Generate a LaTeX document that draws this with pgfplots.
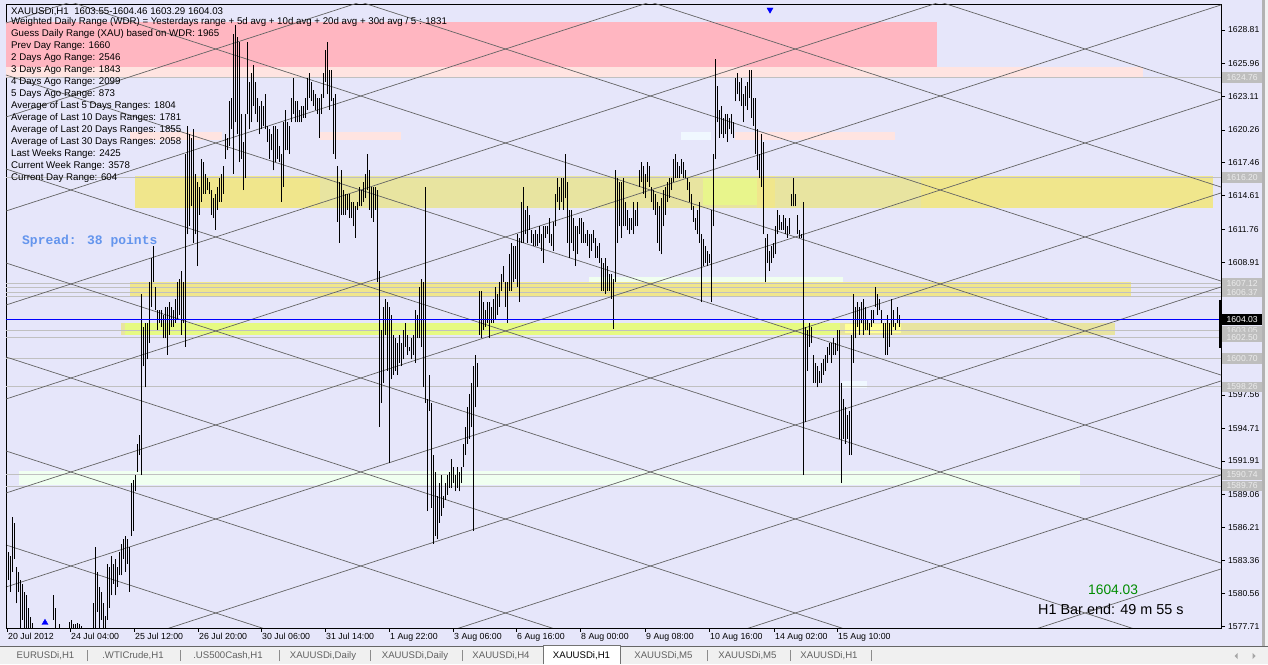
\documentclass[border=0pt]{standalone}
\usepackage{fontspec}
\setmainfont{Liberation Sans}
\newfontfamily\monofont{Liberation Mono}
\usepackage{pgfplots}
\usepackage{pgfplotstable}
\pgfplotsset{compat=1.18}

\definecolor{chartbg}{RGB}{230,230,250}
\definecolor{zonered}{RGB}{255,182,193}
\definecolor{zonepink}{RGB}{255,228,225}
\definecolor{khaki}{RGB}{240,230,140}
\definecolor{khakigray}{RGB}{232,228,160}
\definecolor{limezone}{RGB}{230,250,130}
\definecolor{limeyellow}{RGB}{232,245,140}
\definecolor{paleyellow}{RGB}{255,255,150}
\definecolor{honeydew}{RGB}{240,255,240}
\definecolor{aliceblue}{RGB}{240,248,255}
\definecolor{levelgray}{RGB}{192,192,192}
\definecolor{gridgray}{RGB}{100,100,100}
\definecolor{spreadblue}{RGB}{100,149,237}
\definecolor{bidgreen}{RGB}{0,140,0}
\definecolor{tabbg}{RGB}{240,240,240}
\definecolor{labelbox}{RGB}{190,190,190}
\definecolor{labeltext}{RGB}{235,235,235}

% H1 bars: x (bar position), low, high
\pgfplotstableread{
x lo hi
7 1577.0 1584.8
9 1581.7 1584.1
11 1580.7 1583.8
13 1582.4 1587.1
15 1583.5 1586.6
17 1579.7 1582.8
19 1580.7 1582.4
21 1577.0 1581.7
23 1578.3 1581.4
25 1577.0 1580.7
27 1577.0 1580.4
29 1577.0 1579.3
31 1577.0 1578.5
33 1577.0 1578.0
53 1578.3 1580.4
55 1577.0 1579.3
59 1577.0 1577.9
69 1577.0 1578.1
71 1577.0 1578.3
73 1577.0 1577.9
75 1577.0 1577.9
77 1577.0 1578.0
79 1577.0 1577.9
81 1577.0 1577.8
93 1577.0 1579.7
95 1577.0 1584.5
97 1579.0 1582.4
99 1577.0 1581.1
101 1578.3 1580.7
103 1577.0 1579.7
105 1577.0 1578.6
107 1578.3 1583.1
109 1579.3 1582.8
111 1580.4 1583.8
113 1581.4 1583.1
115 1580.4 1583.5
117 1581.1 1582.8
119 1582.1 1584.1
121 1582.1 1584.8
123 1583.5 1585.2
125 1582.4 1585.5
127 1583.1 1585.2
129 1580.7 1584.5
131 1585.5 1590.0
133 1585.9 1590.3
135 1589.3 1590.7
137 1591.0 1593.4
139 1592.4 1594.1
141 1590.7 1606.2
143 1600.0 1603.4
145 1598.2 1603.7
147 1600.6 1603.7
149 1602.0 1607.2
151 1605.1 1609.3
153 1607.2 1610.3
155 1604.8 1606.8
157 1603.1 1604.8
159 1603.7 1604.8
161 1603.4 1604.8
163 1602.4 1604.4
165 1602.4 1605.1
167 1601.0 1605.1
169 1602.7 1605.5
171 1603.4 1605.1
173 1603.4 1604.8
175 1603.7 1605.8
177 1604.1 1607.2
179 1604.4 1607.5
181 1602.7 1608.2
183 1603.7 1607.2
185 1601.7 1618.2
187 1611.3 1620.6
189 1612.0 1619.9
191 1613.7 1619.6
193 1610.6 1620.3
195 1611.3 1616.5
197 1608.6 1615.8
199 1613.0 1615.4
201 1614.1 1617.8
203 1614.8 1617.5
205 1614.8 1616.5
207 1615.1 1616.1
209 1614.8 1615.8
211 1613.0 1615.1
213 1612.7 1614.4
215 1611.7 1614.8
217 1613.4 1615.4
219 1614.1 1616.1
221 1614.1 1616.5
223 1614.8 1617.2
225 1617.8 1619.9
227 1618.5 1619.6
229 1618.9 1622.7
231 1620.3 1623.0
233 1616.5 1628.5
235 1620.9 1629.2
237 1619.9 1628.2
239 1617.5 1627.8
241 1617.8 1621.6
243 1615.1 1619.2
245 1616.1 1621.6
247 1621.6 1627.8
249 1620.3 1624.4
251 1620.9 1625.1
253 1622.3 1625.8
255 1621.6 1624.4
257 1620.9 1623.0
259 1619.9 1622.3
261 1620.3 1622.7
263 1620.6 1622.3
265 1620.3 1623.3
267 1619.2 1620.6
269 1617.8 1620.3
271 1618.5 1619.9
273 1616.8 1620.6
275 1617.5 1620.6
277 1617.8 1620.3
279 1617.5 1618.9
281 1614.1 1618.2
283 1615.4 1620.9
285 1618.5 1622.0
287 1618.5 1620.9
289 1618.2 1620.6
291 1620.9 1623.0
293 1621.6 1624.7
295 1620.9 1622.7
297 1620.9 1622.7
299 1620.9 1622.0
301 1620.9 1622.3
303 1621.3 1622.3
305 1621.3 1623.0
307 1622.0 1624.7
309 1623.0 1625.1
311 1622.7 1624.4
313 1622.3 1623.7
315 1622.0 1623.3
317 1621.6 1623.0
319 1619.6 1623.0
321 1621.6 1623.3
323 1623.0 1625.1
325 1624.4 1627.1
327 1623.3 1627.8
329 1622.0 1625.4
331 1622.7 1625.4
333 1618.2 1623.0
335 1617.8 1623.3
337 1612.4 1617.2
339 1610.6 1615.8
341 1613.0 1616.8
343 1613.0 1615.1
345 1613.0 1614.8
347 1613.4 1614.8
349 1612.7 1614.8
351 1612.7 1614.1
353 1612.0 1614.1
355 1611.0 1613.7
357 1613.4 1614.1
359 1613.7 1615.4
361 1613.7 1615.1
363 1614.1 1615.8
365 1614.4 1616.5
367 1615.1 1618.2
369 1613.4 1616.8
371 1612.7 1615.4
373 1612.4 1615.4
375 1613.4 1615.4
377 1607.2 1615.1
379 1594.8 1608.2
381 1596.9 1603.1
383 1598.6 1605.1
385 1602.7 1605.8
387 1599.6 1605.5
389 1591.7 1605.1
391 1598.9 1604.4
393 1599.3 1602.7
395 1599.6 1602.4
397 1599.3 1602.0
399 1600.3 1602.7
401 1600.0 1602.0
403 1600.6 1603.1
405 1601.7 1603.7
407 1601.0 1602.7
409 1601.3 1601.7
411 1600.6 1602.4
413 1601.0 1602.7
415 1600.3 1604.8
417 1602.4 1604.4
419 1602.4 1606.8
421 1601.7 1607.5
423 1598.2 1607.2
425 1596.9 1615.4
427 1587.6 1597.2
429 1596.2 1599.3
431 1587.9 1596.9
433 1584.8 1592.4
435 1585.5 1591.0
437 1585.2 1588.9
439 1586.6 1590.0
441 1587.2 1590.7
443 1587.9 1588.9
445 1588.6 1590.0
447 1589.0 1590.7
449 1589.6 1591.0
451 1589.6 1592.1
453 1590.0 1591.4
455 1589.3 1590.7
457 1589.6 1591.4
459 1589.3 1591.0
461 1590.0 1591.4
463 1591.4 1593.4
465 1592.4 1594.8
467 1593.4 1596.5
469 1593.8 1597.6
471 1594.8 1598.6
473 1585.9 1600.0
475 1596.5 1601.0
477 1598.2 1600.3
479 1602.7 1606.5
481 1602.4 1606.5
483 1603.1 1605.5
485 1603.4 1604.8
487 1603.7 1605.5
489 1602.4 1605.5
491 1603.7 1605.1
493 1603.7 1605.8
495 1604.1 1606.8
497 1604.4 1606.2
499 1605.1 1607.2
501 1606.5 1607.9
503 1607.2 1608.6
505 1605.1 1607.2
507 1603.7 1607.2
509 1606.5 1609.6
511 1606.5 1610.6
513 1607.2 1610.3
515 1607.5 1610.3
517 1606.8 1611.3
519 1605.5 1611.0
521 1610.6 1614.1
523 1610.6 1615.4
525 1611.3 1613.4
527 1610.6 1613.7
529 1611.7 1613.0
531 1610.6 1611.7
533 1610.3 1611.3
535 1610.3 1611.7
537 1610.3 1611.3
539 1610.6 1612.0
541 1609.9 1611.3
543 1608.9 1612.0
545 1611.0 1612.0
547 1611.3 1612.0
549 1610.6 1612.7
551 1610.3 1611.3
553 1609.9 1612.4
555 1612.0 1614.8
557 1614.1 1616.1
559 1613.4 1615.4
561 1614.1 1616.1
563 1613.4 1616.1
565 1614.4 1618.2
567 1610.6 1615.8
569 1609.3 1613.4
571 1610.6 1613.4
573 1609.9 1612.7
575 1608.6 1612.0
577 1609.6 1612.0
579 1611.3 1612.7
581 1610.6 1612.7
583 1610.6 1612.4
585 1610.6 1611.3
587 1610.3 1611.7
589 1609.3 1611.3
591 1609.9 1611.3
593 1610.6 1611.7
595 1609.3 1611.0
597 1609.3 1610.3
599 1608.9 1610.6
601 1606.5 1609.3
603 1606.5 1608.9
605 1606.2 1609.3
607 1606.5 1608.6
609 1606.5 1607.9
611 1605.8 1607.9
613 1603.2 1607.5
615 1607.2 1616.8
617 1610.6 1616.1
619 1612.0 1615.8
621 1611.0 1615.8
623 1612.0 1616.1
625 1612.0 1614.1
627 1611.7 1613.4
629 1611.3 1612.7
631 1611.7 1612.7
633 1611.3 1614.1
635 1612.0 1613.4
637 1612.0 1614.1
639 1615.4 1616.8
641 1615.8 1617.5
643 1614.8 1617.2
645 1614.4 1616.5
647 1615.8 1617.5
649 1615.4 1617.2
651 1614.1 1615.4
653 1613.4 1615.1
655 1613.0 1614.8
657 1610.6 1614.1
659 1609.9 1613.7
661 1609.6 1614.4
663 1612.0 1615.1
665 1613.0 1615.4
667 1614.1 1615.8
669 1614.4 1616.1
671 1615.1 1616.1
673 1615.8 1617.8
675 1616.1 1618.2
677 1616.1 1617.5
679 1616.1 1617.2
681 1616.5 1617.8
683 1616.1 1617.5
685 1616.1 1616.8
687 1615.1 1616.1
689 1614.1 1615.8
691 1613.4 1614.8
693 1612.4 1613.7
695 1611.7 1612.7
697 1611.3 1613.4
699 1610.6 1614.1
701 1605.5 1611.3
703 1608.6 1610.9
705 1608.9 1610.3
707 1608.6 1609.9
709 1608.9 1609.6
711 1605.5 1613.4
713 1612.0 1618.2
715 1617.8 1626.3
717 1620.9 1624.0
719 1619.6 1622.0
721 1619.9 1622.3
723 1619.6 1621.3
725 1619.9 1621.6
727 1619.2 1621.6
729 1620.3 1621.3
731 1619.9 1621.6
733 1619.6 1620.9
735 1622.7 1624.7
737 1623.3 1625.1
739 1622.7 1624.4
741 1622.3 1624.7
743 1620.9 1623.3
745 1622.3 1624.0
747 1622.0 1624.4
749 1623.0 1625.4
751 1621.3 1625.4
753 1620.6 1623.0
755 1618.2 1623.0
757 1616.8 1620.3
759 1616.1 1618.2
761 1615.4 1619.9
763 1611.3 1619.2
765 1607.2 1611.0
767 1608.9 1611.3
769 1608.2 1609.9
771 1608.9 1610.3
773 1609.3 1610.6
775 1609.6 1612.0
777 1611.3 1613.4
779 1611.7 1613.0
781 1611.7 1612.4
783 1611.7 1613.0
785 1611.3 1612.7
787 1611.0 1612.0
789 1611.3 1612.7
791 1613.7 1614.8
793 1613.7 1616.1
795 1613.7 1614.8
797 1611.3 1613.0
799 1611.0 1611.7
801 1611.0 1611.3
803 1590.7 1614.1
805 1595.2 1603.4
807 1599.6 1603.1
809 1601.7 1603.7
811 1602.0 1603.4
813 1598.6 1601.0
815 1598.6 1600.3
817 1598.2 1600.0
819 1598.6 1599.6
821 1598.6 1600.3
823 1599.3 1600.6
825 1599.6 1601.0
827 1600.3 1601.7
829 1601.0 1602.0
831 1600.3 1602.0
833 1601.0 1602.4
835 1601.0 1602.0
837 1601.3 1603.1
839 1593.8 1603.1
841 1590.0 1598.6
843 1593.8 1597.2
845 1593.4 1596.5
847 1593.8 1595.8
849 1592.4 1596.2
851 1592.4 1602.7
853 1600.3 1606.2
855 1602.4 1605.1
857 1603.4 1605.5
859 1602.7 1605.1
861 1603.7 1605.5
863 1602.7 1605.8
865 1603.1 1605.1
867 1603.1 1604.1
869 1602.7 1603.7
871 1603.4 1604.8
873 1603.7 1604.8
875 1605.1 1606.8
877 1604.4 1606.2
879 1604.8 1605.8
881 1603.7 1604.8
883 1602.4 1603.7
885 1601.0 1603.7
887 1601.0 1604.4
889 1601.7 1603.7
891 1602.7 1605.8
893 1603.4 1604.8
895 1603.1 1603.7
897 1603.7 1605.1
899 1603.4 1604.4
}\bars

\begin{document}
\begin{tikzpicture}[x=1pt,y=1pt]
\fill[chartbg] (0,0) rectangle (1268,664);
\begin{axis}[
  at={(6pt,36pt)}, anchor=south west,
  scale only axis, width=1215pt, height=624pt,
  xmin=6, xmax=1221, ymin=1577.60, ymax=1631.04,
  axis line style={black, line width=0.9pt},
  tick style={black, line width=0.7pt},
  tick align=outside, major tick length=4pt,
  xtick pos=bottom, ytick pos=right,
  yticklabel pos=right,
  xtick={7,70,134,198,261,325,389,453,516,580,645,709,774,837},
  xticklabels={20 Jul 2012,24 Jul 04:00,25 Jul 12:00,26 Jul 20:00,30 Jul 06:00,31 Jul 14:00,1 Aug 22:00,3 Aug 06:00,6 Aug 16:00,8 Aug 00:00,9 Aug 08:00,10 Aug 16:00,14 Aug 02:00,15 Aug 10:00},
  ytick={1628.81,1625.96,1623.11,1620.26,1617.46,1614.61,1611.76,1608.91,1606.06,1603.21,1600.41,1597.56,1594.71,1591.91,1589.06,1586.21,1583.36,1580.56,1577.71},
  % the labels of 1606.06, 1603.21 and 1600.41 lie under the level boxes
  yticklabels={1628.81,1625.96,1623.11,1620.26,1617.46,1614.61,1611.76,1608.91,,,,1597.56,1594.71,1591.91,1589.06,1586.21,1583.36,1580.56,1577.71},
  xticklabel style={font=\fontsize{8.8}{10}\selectfont, anchor=north west, inner sep=0pt, xshift=1pt, yshift=-1pt},
  yticklabel style={font=\fontsize{8.6}{10}\selectfont, anchor=west, inner sep=0pt, xshift=3pt},
  zone/.style={draw=none, fill=#1, forget plot},
  level/.style={levelgray, line width=0.8pt, forget plot},
  diag/.style={gridgray, line width=0.7pt, forget plot},
]
% zones
\addplot[zone=zonered] coordinates {(6,1629.50) (937,1629.50) (937,1625.64) (6,1625.64)} -- cycle;
\addplot[zone=zonepink] coordinates {(6,1625.64) (1143,1625.64) (1143,1624.78) (6,1624.78)} -- cycle;
\addplot[zone=zonepink] coordinates {(130,1620.08) (222,1620.08) (222,1619.39) (130,1619.39)} -- cycle;
\addplot[zone=zonepink] coordinates {(320,1620.08) (401,1620.08) (401,1619.39) (320,1619.39)} -- cycle;
\addplot[zone=zonepink] coordinates {(735,1620.08) (895,1620.08) (895,1619.39) (735,1619.39)} -- cycle;
\addplot[zone=aliceblue] coordinates {(681,1620.08) (711,1620.08) (711,1619.39) (681,1619.39)} -- cycle;
\addplot[zone=khaki] coordinates {(135,1616.31) (1213,1616.31) (1213,1613.57) (135,1613.57)} -- cycle;
\addplot[zone=khakigray] coordinates {(320,1616.31) (921,1616.31) (921,1613.57) (320,1613.57)} -- cycle;
\addplot[zone=limeyellow] coordinates {(703,1616.1) (757,1616.1) (757,1613.8) (703,1613.8)} -- cycle;
\addplot[zone=khaki] coordinates {(757,1616.31) (775,1616.31) (775,1613.57) (757,1613.57)} -- cycle;
\addplot[zone=honeydew] coordinates {(589,1607.66) (843,1607.66) (843,1607.15) (589,1607.15)} -- cycle;
\addplot[zone=khaki] coordinates {(130,1607.19) (1131,1607.19) (1131,1606.07) (130,1606.07)} -- cycle;
\addplot[zone=khakigray] coordinates {(121,1603.72) (1115,1603.72) (1115,1602.65) (121,1602.65)} -- cycle;
\addplot[zone=limezone] coordinates {(125,1603.72) (840,1603.72) (840,1602.65) (125,1602.65)} -- cycle;
\addplot[zone=paleyellow] coordinates {(845,1603.63) (901,1603.63) (901,1602.86) (845,1602.86)} -- cycle;
\addplot[zone=aliceblue] coordinates {(842,1598.75) (867,1598.75) (867,1598.15) (842,1598.15)} -- cycle;
\addplot[zone=honeydew] coordinates {(19,1591.04) (1080,1591.04) (1080,1589.84) (19,1589.84)} -- cycle;
% horizontal levels
\addplot[level] coordinates {(6,1624.76) (1221,1624.76)};
\addplot[level] coordinates {(6,1616.20) (1221,1616.20)};
\addplot[level] coordinates {(6,1607.12) (1221,1607.12)};
\addplot[level] coordinates {(6,1606.75) (1221,1606.75)};
\addplot[level] coordinates {(6,1606.37) (1221,1606.37)};
\addplot[level] coordinates {(6,1606.00) (1221,1606.00)};
\addplot[level] coordinates {(6,1603.05) (1221,1603.05)};
\addplot[level] coordinates {(6,1602.50) (1221,1602.50)};
\addplot[level] coordinates {(6,1600.70) (1221,1600.70)};
\addplot[level] coordinates {(6,1598.26) (1221,1598.26)};
\addplot[level] coordinates {(6,1590.74) (1221,1590.74)};
\addplot[level] coordinates {(6,1589.76) (1221,1589.76)};
% diagonal lattice, rising
\addplot[diag] coordinates {(6,1548.91) (1230,1582.91)};
\addplot[diag] coordinates {(6,1556.96) (1230,1590.96)};
\addplot[diag] coordinates {(6,1565.01) (1230,1599.01)};
\addplot[diag] coordinates {(6,1573.06) (1230,1607.06)};
\addplot[diag] coordinates {(6,1581.11) (1230,1615.11)};
\addplot[diag] coordinates {(6,1589.16) (1230,1623.16)};
\addplot[diag] coordinates {(6,1597.21) (1230,1631.21)};
\addplot[diag] coordinates {(6,1605.26) (1230,1639.26)};
\addplot[diag] coordinates {(6,1613.31) (1230,1647.31)};
\addplot[diag] coordinates {(6,1621.36) (1230,1655.36)};
\addplot[diag] coordinates {(6,1629.41) (1230,1663.41)};
% diagonal lattice, falling
\addplot[diag] coordinates {(6,1584.71) (1230,1550.71)};
\addplot[diag] coordinates {(6,1592.76) (1230,1558.76)};
\addplot[diag] coordinates {(6,1600.81) (1230,1566.81)};
\addplot[diag] coordinates {(6,1608.86) (1230,1574.86)};
\addplot[diag] coordinates {(6,1616.91) (1230,1582.91)};
\addplot[diag] coordinates {(6,1624.96) (1230,1590.96)};
\addplot[diag] coordinates {(6,1633.01) (1230,1599.01)};
\addplot[diag] coordinates {(6,1641.06) (1230,1607.06)};
\addplot[diag] coordinates {(6,1649.11) (1230,1615.11)};
\addplot[diag] coordinates {(6,1657.16) (1230,1623.16)};
% price bars (high-low)
\addplot[draw=none, forget plot,
  error bars/.cd, y dir=plus, y explicit, error mark=none,
  error bar style={black, line width=1pt}]
  table[x=x, y=lo, y error expr={\thisrow{hi}-\thisrow{lo}}] {\bars};
% bid line
\addplot[blue, line width=0.9pt, forget plot] coordinates {(6,1604.03) (1221,1604.03)};
% current bar range on the price scale
\addplot[black, line width=2.5pt, forget plot] coordinates {(1220,1605.69) (1220,1601.58)};
% arrows
\addplot[only marks, mark=triangle*, mark size=3.5pt, blue, forget plot] coordinates {(45,1578.05)};
\addplot[only marks, mark=triangle*, mark size=3.5pt, blue, mark options={rotate=180}, forget plot] coordinates {(770,1630.55)};
% anchor points for price labels
\coordinate (l1) at (axis cs:1221,1624.76);
\coordinate (l2) at (axis cs:1221,1616.20);
\coordinate (l3) at (axis cs:1221,1607.12);
\coordinate (l4) at (axis cs:1221,1606.37);
\coordinate (l5) at (axis cs:1221,1603.05);
\coordinate (l6) at (axis cs:1221,1602.50);
\coordinate (l7) at (axis cs:1221,1600.70);
\coordinate (l8) at (axis cs:1221,1598.26);
\coordinate (l9) at (axis cs:1221,1590.74);
\coordinate (l10) at (axis cs:1221,1589.76);
\coordinate (bid) at (axis cs:1221,1604.03);
\end{axis}

% price label boxes
\tikzset{lvl/.style={anchor=west, fill=labelbox, text=labeltext, inner sep=0pt,
  minimum width=40pt, minimum height=10.5pt, xshift=1pt, font=\fontsize{8.6}{10}\selectfont}}
\node[lvl] at (l1) {1624.76};
\node[lvl] at (l2) {1616.20};
\node[lvl] at (l3) {1607.12};
\node[lvl] at (l4) {1606.37};
\node[lvl] at (l5) {1603.05};
\node[lvl] at (l6) {1602.50};
\node[lvl] at (l7) {1600.70};
\node[lvl] at (l8) {1598.26};
\node[lvl] at (l9) {1590.74};
\node[lvl] at (l10) {1589.76};
\node[lvl, fill=black, text=white] at (bid) {1604.03};

% indicator text
\begin{scope}[every node/.style={anchor=west, inner sep=0pt, font=\fontsize{9.7}{11}\selectfont}]
\node at (11,652.3) {XAUUSDi,H1\ \ 1603.55-1604.46 1603.29 1604.03};
\node at (11,642) {Weighted Daily Range (WDR) = Yesterdays range + 5d avg + 10d avg + 20d avg + 30d avg / 5 : 1831};
\node at (11,630.3) {Guess Daily Range (XAU) based on WDR: 1965};
\node at (11,618.3) {Prev Day Range: 1660};
\node at (11,606.3) {2 Days Ago Range: 2546};
\node at (11,594.3) {3 Days Ago Range: 1843};
\node at (11,582.3) {4 Days Ago Range: 2099};
\node at (11,570.3) {5 Days Ago Range: 873};
\node at (11,558.3) {Average of Last 5 Days Ranges: 1804};
\node at (11,546.3) {Average of Last 10 Days Ranges: 1781};
\node at (11,534.3) {Average of Last 20 Days Ranges: 1855};
\node at (11,522.3) {Average of Last 30 Days Ranges: 2058};
\node at (11,510.3) {Last Weeks Range: 2425};
\node at (11,498.3) {Current Week Range: 3578};
\node at (11,486.3) {Current Day Range: 604};
\end{scope}
\node[anchor=west, inner sep=0pt, text=spreadblue, font=\monofont\bfseries\fontsize{13}{14}\selectfont] at (22,423) {Spread: 38 points};
\node[anchor=west, inner sep=0pt, text=bidgreen, font=\fontsize{13.8}{15}\selectfont] at (1088,74.5) {1604.03};
\node[anchor=west, inner sep=0pt, font=\fontsize{14.4}{16}\selectfont] at (1038,54.5) {H1 Bar end: 49 m 55 s};

% right scroll edge
\fill[black!30] (1262,18) rectangle (1264.5,664);
\fill[white!95!black] (1264.5,18) rectangle (1268,664);

% tab bar
\fill[tabbg] (0,0) rectangle (1268,18);
\draw[black!60, line width=0.8pt] (0,18) -- (1268,18);
\fill[white] (543,0) rectangle (620,18.4);
\draw[black!55, line width=0.8pt] (543,0) -- (543,18.4) -- (620,18.4) -- (620,0);
\foreach \sx in {87,180,279,370,462,707,790,871}
  \draw[black!45, line width=0.6pt] (\sx,3) -- (\sx,14);
\begin{scope}[every node/.style={inner sep=0pt, text=black!62, font=\fontsize{9.6}{11}\selectfont}]
\node at (45.5,8) {EURUSDi,H1};
\node at (133,8) {.WTICrude,H1};
\node at (228,8) {.US500Cash,H1};
\node at (323,8) {XAUUSDi,Daily};
\node at (415,8) {XAUUSDi,Daily};
\node at (501,8) {XAUUSDi,H4};
\node[text=black] at (581.5,8) {XAUUSDi,H1};
\node at (663.5,8) {XAUUSDi,M5};
\node at (747.5,8) {XAUUSDi,M5};
\node at (829,8) {XAUUSDi,H1};
\end{scope}
\fill[black!35] (1237.5,5) -- (1237.5,11) -- (1234.5,8) -- cycle;
\fill[black!35] (1252.5,5) -- (1252.5,11) -- (1255.5,8) -- cycle;

\pgfresetboundingbox
\useasboundingbox (0,0) rectangle (1268,664);
\end{tikzpicture}
\end{document}
